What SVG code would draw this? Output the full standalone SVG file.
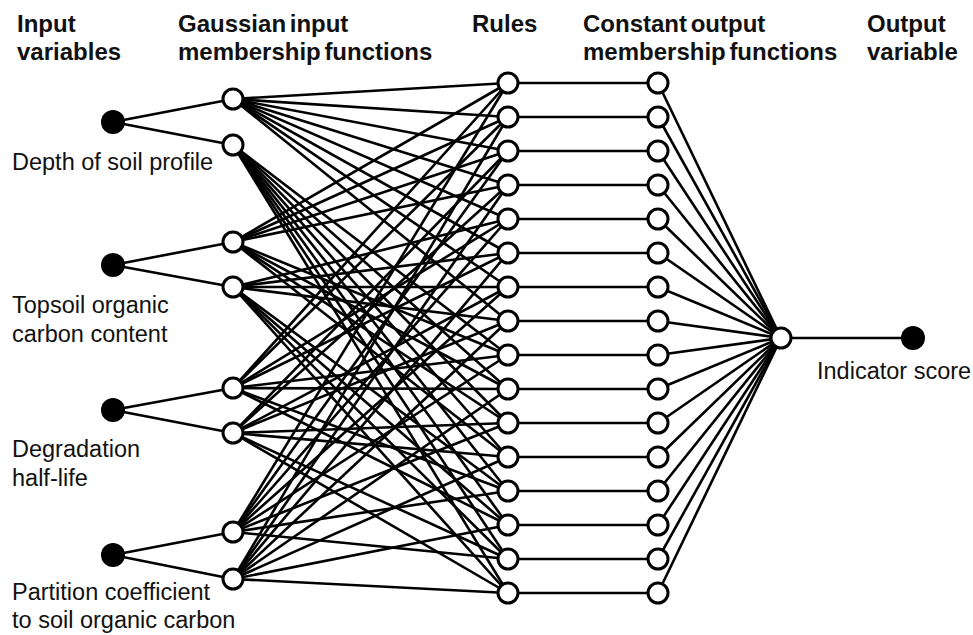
<svg xmlns="http://www.w3.org/2000/svg" width="973" height="635" viewBox="0 0 973 635">
<style>
.h{font-family:"Liberation Sans",Arial,sans-serif;font-weight:bold;font-size:24px;word-spacing:-3px;fill:#111}
.t{font-family:"Liberation Sans",Arial,sans-serif;font-size:23.5px;fill:#111}
.c line{stroke:#000;stroke-width:2.6}
.o{fill:#fff;stroke:#000;stroke-width:3}
.f{fill:#000}
</style>
<rect width="973" height="635" fill="#fff"/>
<g id="headers">
<text class="h" x="17" y="32">Input</text>
<text class="h" x="17" y="60">variables</text>
<text class="h" x="178" y="32">Gaussian input</text>
<text class="h" x="178" y="60">membership functions</text>
<text class="h" x="472" y="32">Rules</text>
<text class="h" x="583" y="32">Constant output</text>
<text class="h" x="583" y="60">membership functions</text>
<text class="h" x="867" y="32">Output</text>
<text class="h" x="867" y="60">variable</text>
</g>
<g id="connectors" class="c">
<line x1="113" y1="122" x2="233" y2="99"/><line x1="113" y1="122" x2="233" y2="145"/>
<line x1="113" y1="265" x2="233" y2="242"/><line x1="113" y1="265" x2="233" y2="287"/>
<line x1="113" y1="410" x2="233" y2="388"/><line x1="113" y1="410" x2="233" y2="433"/>
<line x1="113" y1="555" x2="233" y2="532"/><line x1="113" y1="555" x2="233" y2="579"/>
<line x1="233" y1="99" x2="508" y2="83"/><line x1="233" y1="99" x2="508" y2="117"/><line x1="233" y1="99" x2="508" y2="151"/><line x1="233" y1="99" x2="508" y2="185"/>
<line x1="233" y1="99" x2="508" y2="219"/><line x1="233" y1="99" x2="508" y2="253"/><line x1="233" y1="99" x2="508" y2="287"/><line x1="233" y1="99" x2="508" y2="321"/>
<line x1="233" y1="145" x2="508" y2="355"/><line x1="233" y1="145" x2="508" y2="389"/><line x1="233" y1="145" x2="508" y2="423"/><line x1="233" y1="145" x2="508" y2="457"/>
<line x1="233" y1="145" x2="508" y2="491"/><line x1="233" y1="145" x2="508" y2="525"/><line x1="233" y1="145" x2="508" y2="559"/><line x1="233" y1="145" x2="508" y2="593"/>
<line x1="233" y1="242" x2="508" y2="83"/><line x1="233" y1="242" x2="508" y2="117"/><line x1="233" y1="242" x2="508" y2="151"/><line x1="233" y1="242" x2="508" y2="185"/>
<line x1="233" y1="242" x2="508" y2="355"/><line x1="233" y1="242" x2="508" y2="389"/><line x1="233" y1="242" x2="508" y2="423"/><line x1="233" y1="242" x2="508" y2="457"/>
<line x1="233" y1="287" x2="508" y2="219"/><line x1="233" y1="287" x2="508" y2="253"/><line x1="233" y1="287" x2="508" y2="287"/><line x1="233" y1="287" x2="508" y2="321"/>
<line x1="233" y1="287" x2="508" y2="491"/><line x1="233" y1="287" x2="508" y2="525"/><line x1="233" y1="287" x2="508" y2="559"/><line x1="233" y1="287" x2="508" y2="593"/>
<line x1="233" y1="388" x2="508" y2="83"/><line x1="233" y1="388" x2="508" y2="117"/><line x1="233" y1="388" x2="508" y2="219"/><line x1="233" y1="388" x2="508" y2="253"/>
<line x1="233" y1="388" x2="508" y2="355"/><line x1="233" y1="388" x2="508" y2="389"/><line x1="233" y1="388" x2="508" y2="491"/><line x1="233" y1="388" x2="508" y2="525"/>
<line x1="233" y1="433" x2="508" y2="151"/><line x1="233" y1="433" x2="508" y2="185"/><line x1="233" y1="433" x2="508" y2="287"/><line x1="233" y1="433" x2="508" y2="321"/>
<line x1="233" y1="433" x2="508" y2="423"/><line x1="233" y1="433" x2="508" y2="457"/><line x1="233" y1="433" x2="508" y2="559"/><line x1="233" y1="433" x2="508" y2="593"/>
<line x1="233" y1="532" x2="508" y2="83"/><line x1="233" y1="532" x2="508" y2="151"/><line x1="233" y1="532" x2="508" y2="219"/><line x1="233" y1="532" x2="508" y2="287"/>
<line x1="233" y1="532" x2="508" y2="355"/><line x1="233" y1="532" x2="508" y2="423"/><line x1="233" y1="532" x2="508" y2="491"/><line x1="233" y1="532" x2="508" y2="559"/>
<line x1="233" y1="579" x2="508" y2="117"/><line x1="233" y1="579" x2="508" y2="185"/><line x1="233" y1="579" x2="508" y2="253"/><line x1="233" y1="579" x2="508" y2="321"/>
<line x1="233" y1="579" x2="508" y2="389"/><line x1="233" y1="579" x2="508" y2="457"/><line x1="233" y1="579" x2="508" y2="525"/><line x1="233" y1="579" x2="508" y2="593"/>
<line x1="508" y1="83" x2="658" y2="83"/><line x1="508" y1="117" x2="658" y2="117"/><line x1="508" y1="151" x2="658" y2="151"/><line x1="508" y1="185" x2="658" y2="185"/>
<line x1="508" y1="219" x2="658" y2="219"/><line x1="508" y1="253" x2="658" y2="253"/><line x1="508" y1="287" x2="658" y2="287"/><line x1="508" y1="321" x2="658" y2="321"/>
<line x1="508" y1="355" x2="658" y2="355"/><line x1="508" y1="389" x2="658" y2="389"/><line x1="508" y1="423" x2="658" y2="423"/><line x1="508" y1="457" x2="658" y2="457"/>
<line x1="508" y1="491" x2="658" y2="491"/><line x1="508" y1="525" x2="658" y2="525"/><line x1="508" y1="559" x2="658" y2="559"/><line x1="508" y1="593" x2="658" y2="593"/>
<line x1="658" y1="83" x2="781" y2="338"/><line x1="658" y1="117" x2="781" y2="338"/><line x1="658" y1="151" x2="781" y2="338"/><line x1="658" y1="185" x2="781" y2="338"/>
<line x1="658" y1="219" x2="781" y2="338"/><line x1="658" y1="253" x2="781" y2="338"/><line x1="658" y1="287" x2="781" y2="338"/><line x1="658" y1="321" x2="781" y2="338"/>
<line x1="658" y1="355" x2="781" y2="338"/><line x1="658" y1="389" x2="781" y2="338"/><line x1="658" y1="423" x2="781" y2="338"/><line x1="658" y1="457" x2="781" y2="338"/>
<line x1="658" y1="491" x2="781" y2="338"/><line x1="658" y1="525" x2="781" y2="338"/><line x1="658" y1="559" x2="781" y2="338"/><line x1="658" y1="593" x2="781" y2="338"/>
<line x1="781" y1="338" x2="913" y2="338"/>
</g>
<g id="input-depth"><circle class="f" cx="113" cy="122" r="12"/><text class="t" x="12" y="170">Depth of soil profile</text></g>
<g id="input-topsoil"><circle class="f" cx="113" cy="265" r="12"/><text class="t" x="12" y="313">Topsoil organic</text><text class="t" x="12" y="342">carbon content</text></g>
<g id="input-degradation"><circle class="f" cx="113" cy="410" r="12"/><text class="t" x="12" y="457">Degradation</text><text class="t" x="12" y="486">half-life</text></g>
<g id="input-partition"><circle class="f" cx="113" cy="555" r="12"/><text class="t" x="12" y="600">Partition coefficient</text><text class="t" x="12" y="628">to soil organic carbon</text></g>
<g id="mf1a"><circle class="o" cx="233" cy="99" r="10"/></g>
<g id="mf1b"><circle class="o" cx="233" cy="145" r="10"/></g>
<g id="mf2a"><circle class="o" cx="233" cy="242" r="10"/></g>
<g id="mf2b"><circle class="o" cx="233" cy="287" r="10"/></g>
<g id="mf3a"><circle class="o" cx="233" cy="388" r="10"/></g>
<g id="mf3b"><circle class="o" cx="233" cy="433" r="10"/></g>
<g id="mf4a"><circle class="o" cx="233" cy="532" r="10"/></g>
<g id="mf4b"><circle class="o" cx="233" cy="579" r="10"/></g>
<g id="rules">
<g id="rule1"><circle class="o" cx="508" cy="83" r="10"/></g>
<g id="rule2"><circle class="o" cx="508" cy="117" r="10"/></g>
<g id="rule3"><circle class="o" cx="508" cy="151" r="10"/></g>
<g id="rule4"><circle class="o" cx="508" cy="185" r="10"/></g>
<g id="rule5"><circle class="o" cx="508" cy="219" r="10"/></g>
<g id="rule6"><circle class="o" cx="508" cy="253" r="10"/></g>
<g id="rule7"><circle class="o" cx="508" cy="287" r="10"/></g>
<g id="rule8"><circle class="o" cx="508" cy="321" r="10"/></g>
<g id="rule9"><circle class="o" cx="508" cy="355" r="10"/></g>
<g id="rule10"><circle class="o" cx="508" cy="389" r="10"/></g>
<g id="rule11"><circle class="o" cx="508" cy="423" r="10"/></g>
<g id="rule12"><circle class="o" cx="508" cy="457" r="10"/></g>
<g id="rule13"><circle class="o" cx="508" cy="491" r="10"/></g>
<g id="rule14"><circle class="o" cx="508" cy="525" r="10"/></g>
<g id="rule15"><circle class="o" cx="508" cy="559" r="10"/></g>
<g id="rule16"><circle class="o" cx="508" cy="593" r="10"/></g>
</g>
<g id="outmfs">
<g id="omf1"><circle class="o" cx="658" cy="83" r="10"/></g>
<g id="omf2"><circle class="o" cx="658" cy="117" r="10"/></g>
<g id="omf3"><circle class="o" cx="658" cy="151" r="10"/></g>
<g id="omf4"><circle class="o" cx="658" cy="185" r="10"/></g>
<g id="omf5"><circle class="o" cx="658" cy="219" r="10"/></g>
<g id="omf6"><circle class="o" cx="658" cy="253" r="10"/></g>
<g id="omf7"><circle class="o" cx="658" cy="287" r="10"/></g>
<g id="omf8"><circle class="o" cx="658" cy="321" r="10"/></g>
<g id="omf9"><circle class="o" cx="658" cy="355" r="10"/></g>
<g id="omf10"><circle class="o" cx="658" cy="389" r="10"/></g>
<g id="omf11"><circle class="o" cx="658" cy="423" r="10"/></g>
<g id="omf12"><circle class="o" cx="658" cy="457" r="10"/></g>
<g id="omf13"><circle class="o" cx="658" cy="491" r="10"/></g>
<g id="omf14"><circle class="o" cx="658" cy="525" r="10"/></g>
<g id="omf15"><circle class="o" cx="658" cy="559" r="10"/></g>
<g id="omf16"><circle class="o" cx="658" cy="593" r="10"/></g>
</g>
<g id="output-node"><circle class="o" cx="781" cy="338" r="10"/></g>
<g id="output-variable"><circle class="f" cx="913" cy="338" r="12"/><text class="t" x="817" y="379">Indicator score</text></g>
</svg>
